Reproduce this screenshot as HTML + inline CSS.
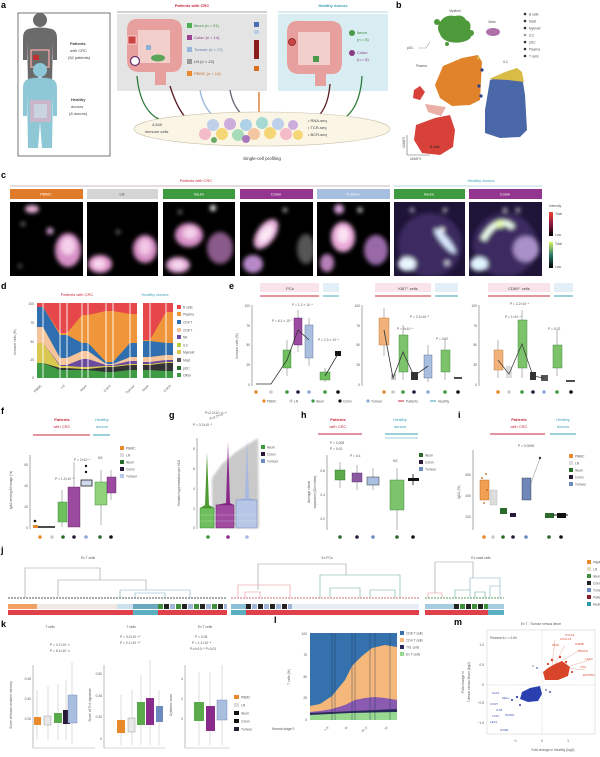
<!DOCTYPE html>
<html><head><meta charset="utf-8">
<style>
html,body{margin:0;padding:0;background:#fff;}
svg{display:block;font-family:"Liberation Sans",sans-serif;filter:blur(0.35px);}
.L{font-size:9px;font-weight:bold;fill:#000}
.s{font-size:4px;fill:#444}
.s3{font-size:3.3px;fill:#555}
.b{font-size:4.5px;fill:#333}
.r{fill:#c62b3c}
.tl{fill:#3aa0b5}
.w{font-size:4px;fill:#fff}
</style></head><body>
<svg width="600" height="757" viewBox="0 0 600 757" xmlns="http://www.w3.org/2000/svg">
<defs>
<filter id="bl" x="-60%" y="-60%" width="220%" height="220%"><feGaussianBlur stdDeviation="2"/></filter>
<filter id="bl1" x="-30%" y="-30%" width="160%" height="160%"><feGaussianBlur stdDeviation="1"/></filter>
<linearGradient id="gr1" x1="0" y1="0" x2="0" y2="1"><stop offset="0" stop-color="#f04030"/><stop offset="0.5" stop-color="#8a1a40"/><stop offset="1" stop-color="#000"/></linearGradient>
<linearGradient id="gr2" x1="0" y1="0" x2="0" y2="1"><stop offset="0" stop-color="#d8f060"/><stop offset="0.5" stop-color="#2a7a6a"/><stop offset="1" stop-color="#000"/></linearGradient>
<clipPath id="c1"><rect x="10" y="202" width="73" height="74"/></clipPath>
<clipPath id="c2"><rect x="87" y="202" width="71" height="74"/></clipPath>
<clipPath id="c3"><rect x="163" y="202" width="72" height="74"/></clipPath>
<clipPath id="c4"><rect x="240" y="202" width="73" height="74"/></clipPath>
<clipPath id="c5"><rect x="317" y="202" width="73" height="74"/></clipPath>
<clipPath id="c6"><rect x="394" y="202" width="71" height="74"/></clipPath>
<clipPath id="c7"><rect x="469" y="202" width="73" height="74"/></clipPath>
</defs>
<rect width="600" height="757" fill="#fff"/>

<!-- ================= PANEL A ================= -->
<text x="1" y="8" class="L">a</text>
<rect x="18" y="13" width="92" height="143" fill="#fff" stroke="#555" stroke-width="0.8"/>
<circle cx="40" cy="20" r="7" fill="#6b6b6b"/>
<path d="M28,29 Q40,26 52,29 Q57,31 57,38 L57,60 L53,60 L53,42 L52,82 L42,82 L40,62 L38,82 L28,82 L27,42 L27,60 L23,60 L23,38 Q23,31 28,29 Z" fill="#6b6b6b"/>
<rect x="31" y="50" width="18" height="17" fill="none" stroke="#e3a0a0" stroke-width="1.5"/>
<rect x="33" y="55" width="6" height="5" fill="#c03030"/>
<text x="70" y="45" class="s" style="font-weight:bold">Patients</text>
<text x="70" y="52" class="s">with CRC</text>
<text x="68" y="59" class="s">(52 patients)</text>
<circle cx="40" cy="70" r="7" fill="#8ec7d5"/>
<path d="M28,79 Q40,76 52,79 Q57,81 57,88 L57,116 L53,116 L53,92 L52,148 L42,148 L40,122 L38,148 L28,148 L27,92 L27,116 L23,116 L23,88 Q23,81 28,79 Z" fill="#8ec7d5"/>
<rect x="30" y="100" width="21" height="22" fill="#d9b2c6" opacity="0.8"/>
<rect x="34" y="104" width="13" height="14" fill="#c8dce6" opacity="0.8"/>
<text x="71" y="101" class="s" style="font-weight:bold">Healthy</text>
<text x="71" y="108" class="s">donors</text>
<text x="69" y="115" class="s">(8 donors)</text>

<text x="192" y="7" class="s r" text-anchor="middle" style="font-weight:bold">Patients with CRC</text>
<line x1="117" y1="12" x2="267" y2="12" stroke="#888" stroke-width="0.8"/>
<rect x="117" y="14" width="150" height="77" fill="#e4e4e4"/>
<path d="M127,30 Q127,18 140,19 L170,19 Q182,19 182,30 L182,60 Q182,72 172,72 L166,72 L166,85 L155,85 L155,72 L140,72 Q127,72 127,60 Z" fill="#e8a09e"/>
<rect x="138" y="30" width="32" height="33" fill="#f2cfcb"/>
<rect x="128" y="36" width="8" height="8" fill="#c44" stroke="#fff" stroke-width="0.6"/>
<circle cx="135" cy="61" r="4.5" fill="#fff" stroke="#6a2a6a" stroke-width="1.2"/>
<ellipse cx="158" cy="58" rx="7" ry="3.5" fill="#5aa55a"/>
<rect x="146" y="45" width="5" height="5" fill="#8fb0d8"/>
<rect x="187" y="23" width="5" height="5" fill="#4caf50"/>
<text x="194" y="27" class="s" style="fill:#3a8a3a">Ileum (n = 21)</text>
<rect x="187" y="35" width="5" height="5" fill="#a0438f"/>
<text x="194" y="39" class="s" style="fill:#8a3a80">Colon (n = 14)</text>
<rect x="187" y="47" width="5" height="5" fill="#9ab5dc"/>
<text x="194" y="51" class="s" style="fill:#5a7ab0">Tumour (n = 17)</text>
<rect x="187" y="59" width="5" height="5" fill="#999"/>
<text x="194" y="63" class="s">LN (n = 22)</text>
<rect x="187" y="71" width="5" height="5" fill="#e8892a"/>
<text x="194" y="75" class="s" style="fill:#c07020">PBMC (n = 14)</text>
<rect x="254" y="22" width="5" height="5" fill="#4a6fb0"/>
<rect x="254" y="30" width="5" height="4" fill="#b8cce6"/>
<rect x="254" y="40" width="5" height="19" fill="#8b1a1a"/>
<rect x="254" y="66" width="5" height="5" fill="#d87020"/>

<text x="333" y="7" class="s tl" text-anchor="middle" style="font-weight:bold">Healthy donors</text>
<line x1="278" y1="12" x2="388" y2="12" stroke="#9cc7d2" stroke-width="0.8"/>
<rect x="278" y="14" width="110" height="77" fill="#d7edf2"/>
<path d="M287,32 Q287,20 300,21 L330,21 Q342,21 342,32 L342,62 Q342,74 332,74 L326,74 L326,86 L315,86 L315,74 L300,74 Q287,74 287,62 Z" fill="#e8a09e"/>
<rect x="298" y="32" width="32" height="33" fill="#f2cfcb"/>
<circle cx="292" cy="42" r="3.5" fill="#c44" stroke="#7a2020" stroke-width="0.8"/>
<rect x="313" y="56" width="6" height="6" fill="#4a9a4a"/>
<circle cx="352" cy="33" r="3" fill="#4a9a4a"/>
<text x="357" y="34" class="s" style="fill:#3a8a3a">Ileum</text>
<text x="357" y="41" class="s" style="fill:#3a8a3a">(n = 8)</text>
<circle cx="352" cy="53" r="3" fill="#8a3a80"/>
<text x="357" y="54" class="s" style="fill:#8a3a80">Colon</text>
<text x="357" y="61" class="s" style="fill:#8a3a80">(n = 8)</text>

<g fill="none" stroke-width="1.3">
<path d="M137,76 Q140,110 160,120" stroke="#2e7a3a"/>
<path d="M170,86 Q178,112 190,122" stroke="#5a1a20"/>
<path d="M200,90 Q203,108 215,117" stroke="#9ab5dc"/>
<path d="M230,90 Q233,108 245,117" stroke="#667"/>
<path d="M259,92 L259,116" stroke="#d87020"/>
<path d="M330,84 Q328,112 312,121" stroke="#5a1a20"/>
<path d="M362,76 Q360,112 338,122" stroke="#2e7a3a"/>
</g>
<polygon points="157,117 163,121 157,123" fill="#2e7a3a"/>
<polygon points="187,119 192,124 186,124" fill="#5a1a20"/>
<polygon points="256,114 262,114 259,119" fill="#d87020"/>
<polygon points="315,118 309,122 315,124" fill="#5a1a20"/>
<polygon points="341,119 335,123 341,125" fill="#2e7a3a"/>
<ellipse cx="262" cy="129" rx="128" ry="17" fill="#fbf5e6" stroke="#c9c0a8" stroke-width="0.6"/>
<g opacity="0.9">
<circle cx="205" cy="134" r="6" fill="#f4b6c6"/>
<circle cx="213" cy="125" r="6" fill="#b9cdec"/>
<circle cx="222" cy="134" r="6" fill="#f5d36b"/>
<circle cx="230" cy="124" r="6" fill="#c7a6dc"/>
<circle cx="238" cy="135" r="6" fill="#9fd8b5"/>
<circle cx="246" cy="125" r="6" fill="#a6cfe8"/>
<circle cx="254" cy="134" r="6" fill="#f3c19a"/>
<circle cx="262" cy="123" r="6" fill="#9fd8d0"/>
<circle cx="270" cy="133" r="6" fill="#f5d36b"/>
<circle cx="278" cy="124" r="6" fill="#b9cdec"/>
<circle cx="286" cy="134" r="6" fill="#f4b6c6"/>
<circle cx="293" cy="125" r="5" fill="#c7a6dc"/>
<circle cx="298" cy="135" r="5" fill="#f5d36b"/>
<circle cx="246" cy="139" r="4" fill="#a06ab8"/>
<circle cx="214" cy="140" r="3" fill="#5aa55a"/>
</g>
<text x="152" y="126" class="s">4,649</text>
<text x="145" y="133" class="s">immune cells</text>
<text x="308" y="122" class="s">• RNA-seq</text>
<text x="308" y="129" class="s">• TCR-seq</text>
<text x="308" y="136" class="s">• BCR-seq</text>
<text x="262" y="160" class="b" text-anchor="middle">Single-cell profiling</text>

<!-- ================= PANEL B ================= -->
<text x="396" y="8" class="L">b</text>
<text x="455" y="12" class="s3" text-anchor="middle">Myeloid</text>
<path d="M440,22 Q445,14 455,16 Q463,14 466,20 Q472,22 470,30 Q474,36 468,40 Q460,44 450,42 Q442,40 440,34 Q436,28 440,22 Z" fill="#4e9a3a"/>
<circle cx="437" cy="22" r="3" fill="#4e9a3a"/>
<circle cx="471" cy="33" r="3" fill="#4e9a3a"/>
<circle cx="447" cy="44" r="2" fill="#4e9a3a"/>
<text x="492" y="23" class="s3" text-anchor="middle">Mast</text>
<ellipse cx="493" cy="32" rx="7" ry="4" fill="#b070a8"/>
<text x="407" y="49" class="s3">pDC</text>
<path d="M418,48 L426,48 L430,42" stroke="#999" stroke-width="0.6" fill="none"/>
<text x="416" y="67" class="s3">Plasma</text>
<polygon points="443,66 462,58 478,55 482,62 480,100 470,105 452,106 440,98 435,85" fill="#e0832a"/>
<polygon points="490,80 508,74 522,76 525,95 527,130 520,137 500,138 485,133 485,110" fill="#4a67a8"/>
<polygon points="489,79 505,72 517,68 522,72 524,82 508,80" fill="#d8bc45"/>
<text x="503" y="63" class="s3">ILC</text>
<circle cx="482" cy="70" r="1.6" fill="#2a3f8a"/>
<circle cx="479" cy="86" r="1.6" fill="#2a3f8a"/>
<circle cx="481" cy="96" r="1.6" fill="#2a3f8a"/>
<circle cx="478" cy="58" r="1.4" fill="#d8bc45"/>
<polygon points="416,125 435,118 450,115 455,130 453,147 440,155 422,153 414,140" fill="#d8413a"/>
<polygon points="414,90 420,86 425,92 420,100 413,98" fill="#d8413a"/>
<polygon points="425,104 446,107 441,116 428,112" fill="#eab0a8"/>
<text x="430" y="148" class="s3" style="fill:#222">B cells</text>
<line x1="407" y1="135" x2="407" y2="155" stroke="#666" stroke-width="0.6"/>
<line x1="407" y1="155" x2="430" y2="155" stroke="#666" stroke-width="0.6"/>
<text x="405" y="148" class="s3" transform="rotate(-90 405 148)">UMAP2</text>
<text x="410" y="160" class="s3">UMAP1</text>
<g>
<circle cx="525" cy="14" r="1.3" fill="#333"/><text x="529" y="15.5" class="s3">B cells</text>
<circle cx="525" cy="21" r="1.3" fill="#333"/><text x="529" y="22.5" class="s3">Mast</text>
<circle cx="525" cy="28" r="1.3" fill="#333"/><text x="529" y="29.5" class="s3">Myeloid</text>
<circle cx="525" cy="35" r="1.3" fill="#999"/><text x="529" y="36.5" class="s3">ILC</text>
<circle cx="525" cy="42" r="1.3" fill="#333"/><text x="529" y="43.5" class="s3">pDC</text>
<circle cx="525" cy="49" r="1.3" fill="#333"/><text x="529" y="50.5" class="s3">Plasma</text>
<circle cx="525" cy="56" r="1.3" fill="#333"/><text x="529" y="57.5" class="s3">T cells</text>
</g>

<!-- ================= PANEL C ================= -->
<text x="1" y="178" class="L">c</text>
<text x="196" y="182" class="s r" text-anchor="middle">Patients with CRC</text>
<text x="481" y="182" class="s tl" text-anchor="middle">Healthy donors</text>
<line x1="10" y1="186" x2="390" y2="186" stroke="#b9a0a8" stroke-width="0.8"/>
<line x1="394" y1="186" x2="542" y2="186" stroke="#a8cdd8" stroke-width="0.8"/>
<rect x="10" y="189" width="73" height="10" fill="#e07b2a"/><text x="46" y="195.5" class="w" text-anchor="middle">PBMC</text>
<rect x="87" y="189" width="71" height="10" fill="#d5d5d5"/><text x="122" y="195.5" class="s" text-anchor="middle">LN</text>
<rect x="163" y="189" width="72" height="10" fill="#3e9a3e"/><text x="199" y="195.5" class="w" text-anchor="middle">Ileum</text>
<rect x="240" y="189" width="73" height="10" fill="#94368f"/><text x="276" y="195.5" class="w" text-anchor="middle">Colon</text>
<rect x="317" y="189" width="73" height="10" fill="#a6bedf"/><text x="353" y="195.5" class="w" text-anchor="middle">Tumour</text>
<rect x="394" y="189" width="71" height="10" fill="#3e9a3e"/><text x="429" y="195.5" class="w" text-anchor="middle">Ileum</text>
<rect x="469" y="189" width="73" height="10" fill="#94368f"/><text x="505" y="195.5" class="w" text-anchor="middle">Colon</text>

<rect x="10" y="202" width="73" height="74" fill="#000"/>
<rect x="87" y="202" width="71" height="74" fill="#000"/>
<rect x="163" y="202" width="72" height="74" fill="#000"/>
<rect x="240" y="202" width="73" height="74" fill="#000"/>
<rect x="317" y="202" width="73" height="74" fill="#000"/>
<rect x="394" y="202" width="71" height="74" fill="#1e1438"/>
<rect x="469" y="202" width="73" height="74" fill="#1e1438"/>

<g clip-path="url(#c1)"><g filter="url(#bl)">
<ellipse cx="32" cy="209" rx="7" ry="4" fill="#e8b0d8"/>
<ellipse cx="68" cy="250" rx="13" ry="17" fill="#d890c8"/>
<ellipse cx="68" cy="246" rx="7" ry="9" fill="#f4d0ea"/>
<circle cx="50" cy="231" r="3.5" fill="#d0a0d0"/>
<circle cx="23" cy="224" r="2" fill="#888"/>
<circle cx="20" cy="266" r="2" fill="#666"/>
</g></g>
<g clip-path="url(#c2)"><g filter="url(#bl)">
<ellipse cx="100" cy="264" rx="12" ry="9" fill="#e49ad0"/>
<ellipse cx="99" cy="264" rx="6" ry="5" fill="#f8d8ee"/>
<ellipse cx="145" cy="249" rx="12" ry="14" fill="#d890c8"/>
<ellipse cx="145" cy="247" rx="6" ry="8" fill="#f2c8e6"/>
<circle cx="118" cy="232" r="2" fill="#888"/>
</g></g>
<g clip-path="url(#c3)"><g filter="url(#bl)">
<ellipse cx="189" cy="235" rx="14" ry="12" fill="#d890c8"/>
<ellipse cx="190" cy="233" rx="7" ry="6" fill="#f4d0ea"/>
<ellipse cx="178" cy="265" rx="12" ry="8" fill="#e4a8d8"/>
<ellipse cx="178" cy="265" rx="6" ry="4" fill="#f8dcf0"/>
<ellipse cx="220" cy="248" rx="13" ry="16" fill="#8a5a8a"/>
<circle cx="213" cy="208" r="3" fill="#fff"/>
<circle cx="180" cy="212" r="2" fill="#888"/>
</g></g>
<g clip-path="url(#c4)"><g filter="url(#bl)">
<ellipse cx="266" cy="234" rx="9" ry="17" fill="#e8b0dc" transform="rotate(35 266 234)"/>
<ellipse cx="266" cy="234" rx="5" ry="10" fill="#fbe8f4" transform="rotate(35 266 234)"/>
<ellipse cx="253" cy="264" rx="10" ry="9" fill="#b888c8"/>
<ellipse cx="306" cy="249" rx="9" ry="15" fill="#555"/>
<circle cx="285" cy="210" r="2" fill="#ddd"/>
</g></g>
<g clip-path="url(#c5)"><g filter="url(#bl)">
<circle cx="339" cy="209" r="5" fill="#d8a0d8"/>
<ellipse cx="343" cy="237" rx="12" ry="15" fill="#e8a8d8"/>
<ellipse cx="343" cy="235" rx="6" ry="8" fill="#fbe2f2"/>
<ellipse cx="376" cy="250" rx="12" ry="15" fill="#9a6aa8"/>
<ellipse cx="327" cy="263" rx="7" ry="9" fill="#b880b8"/>
<circle cx="360" cy="210" r="2.5" fill="#ddd"/>
</g></g>
<g clip-path="url(#c6)"><g filter="url(#bl)">
<ellipse cx="430" cy="245" rx="32" ry="32" fill="#45306a" opacity="0.8"/>
<ellipse cx="407" cy="264" rx="9" ry="7" fill="#eaf6ff"/>
<ellipse cx="445" cy="241" rx="4" ry="16" fill="#d8e8ff" transform="rotate(-40 445 241)"/>
<circle cx="442" cy="230" r="2.5" fill="#fff"/>
<circle cx="412" cy="210" r="2" fill="#ccd"/>
<circle cx="445" cy="210" r="2" fill="#ddd"/>
<circle cx="447" cy="263" r="2.5" fill="#dde"/>
</g></g>
<g clip-path="url(#c7)"><g filter="url(#bl)">
<ellipse cx="505" cy="245" rx="32" ry="32" fill="#45306a" opacity="0.8"/>
<path d="M483,240 Q490,226 500,223 Q508,222 513,228" fill="none" stroke="#f0fff0" stroke-width="6"/>
<circle cx="500" cy="224" r="4" fill="#e8ffb0"/>
<ellipse cx="526" cy="249" rx="13" ry="13" fill="#a890c8"/>
<ellipse cx="479" cy="264" rx="9" ry="7" fill="#e0f4ff"/>
<circle cx="505" cy="210" r="2" fill="#ddd"/>
<circle cx="518" cy="210" r="2" fill="#ddd"/>
</g></g>
<text x="549" y="207" class="s3">Intensity</text>
<rect x="549" y="212" width="4" height="24" fill="url(#gr1)"/>
<rect x="549" y="242" width="4" height="26" fill="url(#gr2)"/>
<text x="555" y="215" class="s3">Total</text>
<text x="555" y="236" class="s3">Low</text>
<text x="555" y="245" class="s3">Total</text>
<text x="555" y="268" class="s3">Low</text>

<!-- ================= PANEL D ================= -->
<text x="1" y="289" class="L">d</text>
<text x="77" y="296" class="s r" text-anchor="middle">Patients with CRC</text>
<text x="155" y="296" class="s tl" text-anchor="middle">Healthy donors</text>
<rect x="37" y="303" width="100" height="75" fill="#e5474a"/>
<polygon points="37,307 43,307 60,333 67,333 82,315 88,315 106,311 113,311 130,314 137,314 137,378 37,378" fill="#f0963a"/>
<polygon points="37,307 43,307 60,335 67,335 82,343 88,343 106,362 113,362 130,343 137,343 137,378 37,378" fill="#2f6faf"/>
<polygon points="37,327 43,327 60,358 67,358 82,351 88,351 106,364 113,364 130,357 137,357 137,378 37,378" fill="#f6c49a"/>
<polygon points="37,343 43,343 60,365 67,365 82,359 88,359 106,365 113,365 130,361 137,361 137,378 37,378" fill="#6a4a9e"/>
<polygon points="37,343 43,343 60,366 67,366 82,367 88,367 106,366 113,366 130,364 137,364 137,378 37,378" fill="#d8c850"/>
<polygon points="37,363 43,363 60,368 67,368 82,369 88,369 106,367 113,367 130,365 137,365 137,378 37,378" fill="#333"/>
<polygon points="37,363 43,363 60,370 67,370 82,370 88,370 106,372 113,372 130,370 137,370 137,378 37,378" fill="#3e9a43"/>
<rect x="143" y="303" width="30" height="75" fill="#e5474a"/>
<polygon points="143,340 150,340 166,312 173,312 173,378 143,378" fill="#f0963a"/>
<polygon points="143,341 150,341 166,343 173,343 173,378 143,378" fill="#2f6faf"/>
<polygon points="143,357 150,357 166,355 173,355 173,378 143,378" fill="#f6c49a"/>
<polygon points="143,362 150,362 166,360 173,360 173,378 143,378" fill="#6a4a9e"/>
<polygon points="143,364 150,364 166,362 173,362 173,378 143,378" fill="#d8c850"/>
<polygon points="143,365 150,365 166,363 173,363 173,378 143,378" fill="#333"/>
<polygon points="143,370 150,370 166,371 173,371 173,378 143,378" fill="#3e9a43"/>
<g stroke="#fff" stroke-width="0.9">
<line x1="43" y1="303" x2="43" y2="378"/><line x1="60" y1="303" x2="60" y2="378"/><line x1="67" y1="303" x2="67" y2="378"/>
<line x1="82" y1="303" x2="82" y2="378"/><line x1="88" y1="303" x2="88" y2="378"/><line x1="106" y1="303" x2="106" y2="378"/>
<line x1="113" y1="303" x2="113" y2="378"/><line x1="130" y1="303" x2="130" y2="378"/>
<line x1="150" y1="303" x2="150" y2="378"/><line x1="166" y1="303" x2="166" y2="378"/>
</g>
<g class="s3" text-anchor="end">
<text x="34" y="305">100</text><text x="34" y="324">75</text><text x="34" y="343">50</text><text x="34" y="361">25</text><text x="34" y="379">0</text>
</g>
<text x="16" y="342" class="s3" text-anchor="middle" transform="rotate(-90 16 342)">Immune cells (%)</text>
<g class="s3" text-anchor="end">
<text x="42" y="386" transform="rotate(-45 42 386)">PBMC</text>
<text x="65" y="386" transform="rotate(-45 65 386)">LN</text>
<text x="87" y="386" transform="rotate(-45 87 386)">Ileum</text>
<text x="111" y="386" transform="rotate(-45 111 386)">Colon</text>
<text x="135" y="386" transform="rotate(-45 135 386)">Tumour</text>
<text x="149" y="386" transform="rotate(-45 149 386)">Ileum</text>
<text x="171" y="386" transform="rotate(-45 171 386)">Colon</text>
</g>
<g>
<rect x="177" y="305" width="4" height="4" fill="#e5474a"/><text x="183" y="308.5" class="s3">B cells</text>
<rect x="177" y="312" width="4" height="4" fill="#f0963a"/><text x="183" y="315.5" class="s3">Plasma</text>
<rect x="177" y="320" width="4" height="4" fill="#2f6faf"/><text x="183" y="323.5" class="s3">CD4 T</text>
<rect x="177" y="328" width="4" height="4" fill="#f6c49a"/><text x="183" y="331.5" class="s3">CD8 T</text>
<rect x="177" y="335" width="4" height="4" fill="#6a4a9e"/><text x="183" y="338.5" class="s3">NK</text>
<rect x="177" y="343" width="4" height="4" fill="#b8d040"/><text x="183" y="346.5" class="s3">ILC</text>
<rect x="177" y="350" width="4" height="4" fill="#d8c850"/><text x="183" y="353.5" class="s3">Myeloid</text>
<rect x="177" y="358" width="4" height="4" fill="#555"/><text x="183" y="361.5" class="s3">Mast</text>
<rect x="177" y="366" width="4" height="4" fill="#2a6a2a"/><text x="183" y="369.5" class="s3">pDC</text>
<rect x="177" y="373" width="4" height="4" fill="#3e9a43"/><text x="183" y="376.5" class="s3">Other</text>
</g>

<!-- ================= PANEL E ================= -->
<text x="229" y="289" class="L">e</text>
<rect x="260" y="283" width="59" height="9" fill="#f8e4ea"/><rect x="323" y="283" width="16" height="9" fill="#e4eef6"/>
<text x="290" y="290" class="s" text-anchor="middle">PCs</text>
<line x1="260" y1="296" x2="319" y2="296" stroke="#c62b3c" stroke-width="0.9"/>
<line x1="323" y1="296" x2="339" y2="296" stroke="#3aa0b5" stroke-width="0.9"/>
<line x1="252" y1="305" x2="252" y2="386" stroke="#555" stroke-width="0.5"/>
<g class="s3" text-anchor="end"><text x="250" y="307">100</text><text x="250" y="327">75</text><text x="250" y="346">50</text><text x="250" y="366">25</text><text x="250" y="386">0</text></g>
<text x="238" y="346" class="s3" text-anchor="middle" transform="rotate(-90 238 346)">Immune cells (%)</text>
<g stroke="#444" stroke-width="0.4">
<line x1="287" y1="340" x2="287" y2="376"/><line x1="298" y1="310" x2="298" y2="352"/><line x1="309" y1="318" x2="309" y2="366"/><line x1="325" y1="368" x2="325" y2="382"/>
</g>
<rect x="283" y="350" width="8" height="18" fill="#6fbf5f" stroke="#2d7a2d" stroke-width="0.4"/>
<rect x="294" y="318" width="8" height="27" fill="#9a4aa0" stroke="#5a2060" stroke-width="0.4"/>
<rect x="305" y="325" width="8" height="33" fill="#a9bfe0" stroke="#4a5a80" stroke-width="0.4"/>
<rect x="320" y="372" width="10" height="8" fill="#6fbf5f" stroke="#2d7a2d" stroke-width="0.4"/>
<rect x="335" y="351" width="6" height="5" fill="#111"/>
<polyline points="256,384 271,384 287,360 298,330 309,340" fill="none" stroke="#333" stroke-width="0.8"/>
<polyline points="325,376 338,354" fill="none" stroke="#333" stroke-width="0.8"/>
<text x="272" y="322" class="s3">P = 6.1 × 10⁻⁷</text>
<text x="292" y="306" class="s3">P = 1.2 × 10⁻⁶</text>
<text x="318" y="341" class="s3">P = 2.3 × 10⁻⁴</text>
<rect x="375" y="283" width="56" height="9" fill="#f8e4ea"/><rect x="435" y="283" width="23" height="9" fill="#e4eef6"/>
<text x="408" y="290" class="s" text-anchor="middle">Ki67⁺ cells</text>
<line x1="375" y1="296" x2="431" y2="296" stroke="#c62b3c" stroke-width="0.9"/>
<line x1="435" y1="296" x2="458" y2="296" stroke="#3aa0b5" stroke-width="0.9"/>
<line x1="362" y1="305" x2="362" y2="386" stroke="#555" stroke-width="0.5"/>
<g class="s3" text-anchor="end"><text x="360" y="307">100</text><text x="360" y="327">75</text><text x="360" y="346">50</text><text x="360" y="366">25</text><text x="360" y="386">0</text></g>
<g stroke="#444" stroke-width="0.4">
<line x1="384" y1="308" x2="384" y2="356"/><line x1="403" y1="325" x2="403" y2="380"/><line x1="428" y1="345" x2="428" y2="382"/><line x1="445" y1="338" x2="445" y2="380"/>
</g>
<rect x="379" y="318" width="10" height="27" fill="#f0b27a" stroke="#c06a20" stroke-width="0.4"/>
<rect x="391" y="374" width="5" height="6" fill="#ccc"/>
<rect x="399" y="335" width="9" height="37" fill="#7cc36b" stroke="#2d7a2d" stroke-width="0.4"/>
<rect x="411" y="372" width="7" height="8" fill="#333"/>
<rect x="424" y="355" width="8" height="23" fill="#a9bfe0" stroke="#4a5a80" stroke-width="0.4"/>
<rect x="441" y="350" width="9" height="22" fill="#7cc36b" stroke="#2d7a2d" stroke-width="0.4"/>
<line x1="454" y1="378" x2="462" y2="378" stroke="#111" stroke-width="1.5"/>
<polyline points="384,330 393,378 403,352 414,376 428,366" fill="none" stroke="#333" stroke-width="0.8"/>
<text x="397" y="330" class="s3">P = 5×10⁻⁴</text>
<text x="410" y="318" class="s3">P = 2.2×10⁻⁵</text>
<text x="436" y="340" class="s3">P = 0.07</text>
<rect x="488" y="283" width="62" height="9" fill="#f8e4ea"/><rect x="554" y="283" width="19" height="9" fill="#e4eef6"/>
<text x="519" y="290" class="s" text-anchor="middle">CD69⁺ cells</text>
<line x1="488" y1="296" x2="550" y2="296" stroke="#c62b3c" stroke-width="0.9"/>
<line x1="554" y1="296" x2="573" y2="296" stroke="#3aa0b5" stroke-width="0.9"/>
<line x1="479" y1="305" x2="479" y2="386" stroke="#555" stroke-width="0.5"/>
<g class="s3" text-anchor="end"><text x="477" y="307">100</text><text x="477" y="327">75</text><text x="477" y="346">50</text><text x="477" y="366">25</text><text x="477" y="386">0</text></g>
<g stroke="#444" stroke-width="0.4">
<line x1="498" y1="340" x2="498" y2="378"/><line x1="522" y1="310" x2="522" y2="378"/><line x1="557" y1="330" x2="557" y2="376"/>
</g>
<rect x="494" y="350" width="9" height="20" fill="#f0b27a" stroke="#c06a20" stroke-width="0.4"/>
<rect x="506" y="366" width="6" height="12" fill="#ddd"/>
<rect x="518" y="320" width="9" height="48" fill="#7cc36b" stroke="#2d7a2d" stroke-width="0.4"/>
<rect x="530" y="372" width="6" height="8" fill="#333"/>
<rect x="541" y="375" width="7" height="6" fill="#555"/>
<rect x="553" y="345" width="9" height="23" fill="#7cc36b" stroke="#2d7a2d" stroke-width="0.4"/>
<line x1="566" y1="381" x2="575" y2="381" stroke="#111" stroke-width="1.5"/>
<polyline points="498,360 509,374 522,344 533,376 544,378" fill="none" stroke="#333" stroke-width="0.7"/>
<text x="510" y="305" class="s3">P = 2.2×10⁻⁶</text>
<text x="505" y="318" class="s3">P = 1×10⁻⁴</text>
<text x="548" y="330" class="s3">P = 0.02</text>
<g>
<circle cx="256" cy="392" r="1.8" fill="#e8892a"/><circle cx="271" cy="392" r="1.8" fill="#ccc"/><circle cx="287" cy="392" r="1.8" fill="#3e9a3e"/><circle cx="298" cy="392" r="1.8" fill="#2a1a3a"/><circle cx="309" cy="392" r="1.8" fill="#8fa8d8"/><circle cx="325" cy="392" r="1.8" fill="#3e9a3e"/><circle cx="338" cy="392" r="1.8" fill="#111"/>
<circle cx="384" cy="392" r="1.8" fill="#e8892a"/><circle cx="393" cy="392" r="1.8" fill="#ccc"/><circle cx="403" cy="392" r="1.8" fill="#3e9a3e"/><circle cx="414" cy="392" r="1.8" fill="#2a1a3a"/><circle cx="428" cy="392" r="1.8" fill="#8fa8d8"/><circle cx="445" cy="392" r="1.8" fill="#3e9a3e"/><circle cx="458" cy="392" r="1.8" fill="#111"/>
<circle cx="498" cy="392" r="1.8" fill="#e8892a"/><circle cx="509" cy="392" r="1.8" fill="#ccc"/><circle cx="522" cy="392" r="1.8" fill="#3e9a3e"/><circle cx="533" cy="392" r="1.8" fill="#2a1a3a"/><circle cx="544" cy="392" r="1.8" fill="#8fa8d8"/><circle cx="557" cy="392" r="1.8" fill="#3e9a3e"/><circle cx="571" cy="392" r="1.8" fill="#111"/>
</g>
<g>
<circle cx="264" cy="401" r="1.6" fill="#e8892a"/><text x="267" y="402.5" class="s3">PBMC</text>
<circle cx="291" cy="401" r="1.6" fill="#ccc"/><text x="294" y="402.5" class="s3">LN</text>
<circle cx="313" cy="401" r="1.6" fill="#3e9a3e"/><text x="316" y="402.5" class="s3">Ileum</text>
<circle cx="340" cy="401" r="1.6" fill="#111"/><text x="343" y="402.5" class="s3">Colon</text>
<circle cx="368" cy="401" r="1.6" fill="#8fa8d8"/><text x="371" y="402.5" class="s3">Tumour</text>
<line x1="398" y1="401" x2="404" y2="401" stroke="#c62b3c" stroke-width="1"/><text x="406" y="402.5" class="s3">Patients</text>
<line x1="430" y1="401" x2="436" y2="401" stroke="#3aa0b5" stroke-width="1"/><text x="438" y="402.5" class="s3">Healthy</text>
</g>

<!-- ================= PANEL F ================= -->
<text x="1" y="414" class="L">f</text>
<text x="62" y="421" class="s r" text-anchor="middle" style="font-weight:bold">Patients</text>
<text x="62" y="428" class="s r" text-anchor="middle">with CRC</text>
<text x="102" y="421" class="s tl" text-anchor="middle">Healthy</text>
<text x="102" y="428" class="s tl" text-anchor="middle">donors</text>
<line x1="33" y1="435" x2="90" y2="435" stroke="#c62b3c" stroke-width="0.9"/>
<line x1="93" y1="435" x2="110" y2="435" stroke="#3aa0b5" stroke-width="0.9"/>
<line x1="30" y1="455" x2="30" y2="529" stroke="#555" stroke-width="0.5"/>
<g class="s3" text-anchor="end"><text x="28" y="466">60</text><text x="28" y="487">40</text><text x="28" y="508">20</text><text x="28" y="529">0</text></g>
<text x="12" y="490" class="s3" text-anchor="middle" transform="rotate(-90 12 490)">IgA2 among B lineage (%)</text>
<g stroke="#444" stroke-width="0.4">
<line x1="62" y1="490" x2="62" y2="527"/><line x1="74" y1="462" x2="74" y2="527"/><line x1="101" y1="470" x2="101" y2="525"/><line x1="111" y1="470" x2="111" y2="500"/>
</g>
<circle cx="35" cy="521" r="1.3" fill="#111"/><rect x="33" y="525" width="5" height="3" fill="#e8892a"/>
<line x1="38" y1="527" x2="55" y2="527" stroke="#111" stroke-width="1.4"/>
<rect x="58" y="502" width="9" height="20" fill="#6fbf5f" stroke="#2d7a2d" stroke-width="0.4"/>
<rect x="68" y="487" width="12" height="40" fill="#9b4aa0" stroke="#5a2060" stroke-width="0.4"/>
<rect x="81" y="480" width="11" height="6" fill="#cfd9ee" stroke="#222" stroke-width="0.8"/>
<circle cx="86" cy="466" r="1.2" fill="#111"/><circle cx="86" cy="472" r="1.2" fill="#111"/>
<rect x="95" y="482" width="12" height="23" fill="#8fd27a" stroke="#2d7a2d" stroke-width="0.4"/>
<rect x="107" y="477" width="9" height="16" fill="#9b4aa0" stroke="#5a2060" stroke-width="0.4"/>
<text x="55" y="480" class="s3">P = 1.2×10⁻⁵</text>
<text x="74" y="461" class="s3">P = 2×10⁻⁴</text>
<text x="98" y="459" class="s3">NS</text>
<g>
<circle cx="40" cy="537" r="1.8" fill="#e8892a"/><circle cx="52" cy="537" r="1.8" fill="#ccc"/><circle cx="63" cy="537" r="1.8" fill="#2a6a2a"/><circle cx="74" cy="537" r="1.8" fill="#2a1a3a"/><circle cx="86" cy="537" r="1.8" fill="#8fa8d8"/><circle cx="100" cy="537" r="1.8" fill="#2a6a2a"/><circle cx="111" cy="537" r="1.8" fill="#111"/>
</g>
<g>
<rect x="120" y="446" width="4" height="4" fill="#e8892a"/><text x="126" y="449.5" class="s3">PBMC</text>
<rect x="120" y="453" width="4" height="4" fill="#ddd"/><text x="126" y="456.5" class="s3">LN</text>
<rect x="120" y="460" width="4" height="4" fill="#2a6a2a"/><text x="126" y="463.5" class="s3">Ileum</text>
<rect x="120" y="467" width="4" height="4" fill="#2a1a3a"/><text x="126" y="470.5" class="s3">Colon</text>
<rect x="120" y="474" width="4" height="4" fill="#b8c8e8"/><text x="126" y="477.5" class="s3">Tumour</text>
</g>

<!-- ================= PANEL G ================= -->
<text x="169" y="418" class="L">g</text>
<text x="205" y="414" class="s3">P&lt;2.2×10⁻¹⁶</text>
<text x="210" y="420" class="s3" transform="rotate(-20 210 420)">P&lt;2.2×10⁻¹⁶</text>
<text x="193" y="426" class="s3">P = 3.3×10⁻⁵</text>
<line x1="197" y1="438" x2="197" y2="529" stroke="#555" stroke-width="0.5"/>
<g class="s3" text-anchor="end"><text x="195" y="450">8</text><text x="195" y="470">6</text><text x="195" y="490">4</text><text x="195" y="510">2</text><text x="195" y="529">0</text></g>
<text x="180" y="483" class="s3" text-anchor="middle" transform="rotate(-90 180 483)">Somatic hypermutation per VDJ</text>
<polygon points="212,528 212,478 222,464 236,452 250,443 258,438 259,528" fill="#b8b8b8" opacity="0.75" filter="url(#bl1)"/>
<polygon points="207,452 209,505 214,508 214,528 200,528 200,508 205,505" fill="#4e9a30"/>
<rect x="200" y="508" width="14" height="20" fill="#6cbf5a" stroke="#2d7a2d" stroke-width="0.4"/>
<polygon points="228,442 230,503 234,505 234,528 216,528 216,505 226,503" fill="#8a2a8a"/>
<rect x="216" y="505" width="18" height="23" fill="#a04aa0" stroke="#5a2060" stroke-width="0.4"/>
<polygon points="247,440 249,498 257,500 257,528 236,528 236,500 245,498" fill="#a8b8e0"/>
<rect x="236" y="500" width="21" height="28" fill="#b5c6e6" stroke="#6a7ab0" stroke-width="0.4"/>
<g stroke="#fff" stroke-width="0.3" opacity="0.7">
<line x1="200" y1="515" x2="257" y2="515"/><line x1="200" y1="521" x2="257" y2="521"/>
</g>
<circle cx="208" cy="537" r="1.8" fill="#3e9a3e"/><circle cx="228" cy="537" r="1.8" fill="#8a2a8a"/><circle cx="247" cy="537" r="1.8" fill="#a8b8e0"/>
<rect x="261" y="445" width="4" height="4" fill="#3e9a3e"/><text x="267" y="448.5" class="s3">Ileum</text>
<rect x="261" y="452" width="4" height="4" fill="#2a1a3a"/><text x="267" y="455.5" class="s3">Colon</text>
<rect x="261" y="459" width="4" height="4" fill="#6a8ac0"/><text x="267" y="462.5" class="s3">Tumour</text>

<!-- ================= PANEL H ================= -->
<text x="301" y="418" class="L">h</text>
<text x="338" y="421" class="s r" text-anchor="middle" style="font-weight:bold">Patients</text>
<text x="338" y="428" class="s r" text-anchor="middle">with CRC</text>
<text x="400" y="421" class="s tl" text-anchor="middle">Healthy</text>
<text x="400" y="428" class="s tl" text-anchor="middle">donors</text>
<line x1="318" y1="434" x2="362" y2="434" stroke="#c62b3c" stroke-width="0.9"/>
<line x1="385" y1="434" x2="418" y2="434" stroke="#3aa0b5" stroke-width="0.9"/>
<line x1="385" y1="438" x2="418" y2="438" stroke="#3aa0b5" stroke-width="0.5"/>
<line x1="327" y1="455" x2="327" y2="530" stroke="#555" stroke-width="0.5"/>
<g class="s3" text-anchor="end"><text x="325" y="472">0.6</text><text x="325" y="496">0.4</text><text x="325" y="520">0.2</text></g>
<text x="310" y="492" class="s3" text-anchor="middle" transform="rotate(-90 310 492)">Average clonal</text>
<text x="316" y="492" class="s3" text-anchor="middle" transform="rotate(-90 316 492)">expansion (Gini index)</text>
<text x="330" y="444" class="s3">P = 0.008</text>
<text x="330" y="450" class="s3">P = 0.02</text>
<text x="350" y="457" class="s3">P = 0.4</text>
<text x="393" y="462" class="s3">NS</text>
<g stroke="#444" stroke-width="0.4">
<line x1="340" y1="462" x2="340" y2="488"/><line x1="357" y1="465" x2="357" y2="490"/><line x1="373" y1="468" x2="373" y2="490"/><line x1="397" y1="468" x2="397" y2="530"/>
</g>
<rect x="335" y="470" width="10" height="10" fill="#5aaa4a" stroke="#2d6a2d" stroke-width="0.4"/>
<rect x="352" y="473" width="10" height="9" fill="#8a5aa0" stroke="#4a2060" stroke-width="0.4"/>
<rect x="367" y="477" width="12" height="8" fill="#a9bfe0" stroke="#333" stroke-width="0.5"/>
<rect x="390" y="480" width="14" height="30" fill="#7cc36b" stroke="#2d7a2d" stroke-width="0.4"/>
<rect x="408" y="478" width="11" height="3" fill="#111"/>
<line x1="413" y1="474" x2="413" y2="485" stroke="#111" stroke-width="0.8"/>
<circle cx="340" cy="537" r="1.8" fill="#2a6a2a"/><circle cx="357" cy="537" r="1.8" fill="#2a1a3a"/><circle cx="373" cy="537" r="1.8" fill="#6a8ac0"/><circle cx="397" cy="537" r="1.8" fill="#2a6a2a"/><circle cx="413" cy="537" r="1.8" fill="#111"/>
<rect x="419" y="453" width="4" height="4" fill="#2a6a2a"/><text x="425" y="456.5" class="s3">Ileum</text>
<rect x="419" y="460" width="4" height="4" fill="#2a1a3a"/><text x="425" y="463.5" class="s3">Colon</text>
<rect x="419" y="467" width="4" height="4" fill="#6a8ac0"/><text x="425" y="470.5" class="s3">Tumour</text>

<!-- ================= PANEL I ================= -->
<text x="458" y="418" class="L">i</text>
<text x="519" y="421" class="s r" text-anchor="middle" style="font-weight:bold">Patients</text>
<text x="519" y="428" class="s r" text-anchor="middle">with CRC</text>
<text x="563" y="421" class="s tl" text-anchor="middle">Healthy</text>
<text x="563" y="428" class="s tl" text-anchor="middle">donors</text>
<line x1="490" y1="434" x2="545" y2="434" stroke="#c62b3c" stroke-width="0.9"/>
<line x1="550" y1="434" x2="576" y2="434" stroke="#3aa0b5" stroke-width="0.9"/>
<text x="518" y="447" class="s3">P = 0.0008</text>
<line x1="473" y1="450" x2="473" y2="530" stroke="#555" stroke-width="0.5"/>
<g class="s3" text-anchor="end"><text x="471" y="476">600</text><text x="471" y="497">400</text><text x="471" y="518">200</text></g>
<text x="460" y="492" class="s3" text-anchor="middle" transform="rotate(-90 460 492)">IgG1 (%)</text>
<line x1="525" y1="500" x2="540" y2="458" stroke="#888" stroke-width="0.5"/>
<circle cx="540" cy="458" r="1.2" fill="#333"/>
<rect x="480" y="480" width="9" height="20" fill="#f0a050" stroke="#b06010" stroke-width="0.4"/>
<g fill="#c06010"><circle cx="482" cy="478" r="0.9"/><circle cx="486" cy="474" r="0.9"/><circle cx="484" cy="503" r="0.9"/><circle cx="487" cy="490" r="0.9"/></g>
<rect x="490" y="490" width="7" height="15" fill="#ddd" stroke="#999" stroke-width="0.3"/>
<rect x="500" y="508" width="7" height="6" fill="#2a6a2a"/>
<rect x="510" y="513" width="6" height="4" fill="#2a1a3a"/>
<rect x="522" y="478" width="9" height="22" fill="#6f86b8" stroke="#334" stroke-width="0.4"/>
<rect x="545" y="513" width="9" height="5" fill="#2a6a2a"/>
<rect x="557" y="513" width="9" height="5" fill="#111"/>
<line x1="553" y1="515" x2="568" y2="515" stroke="#111" stroke-width="1"/>
<circle cx="484" cy="537" r="1.8" fill="#e8892a"/><circle cx="493" cy="537" r="1.8" fill="#ccc"/><circle cx="503" cy="537" r="1.8" fill="#2a6a2a"/><circle cx="513" cy="537" r="1.8" fill="#2a1a3a"/><circle cx="526" cy="537" r="1.8" fill="#6a8ac0"/><circle cx="549" cy="537" r="1.8" fill="#2a6a2a"/><circle cx="561" cy="537" r="1.8" fill="#111"/>
<rect x="569" y="454" width="4" height="4" fill="#e8892a"/><text x="575" y="457.5" class="s3">PBMC</text>
<rect x="569" y="461" width="4" height="4" fill="#ddd"/><text x="575" y="464.5" class="s3">LN</text>
<rect x="569" y="468" width="4" height="4" fill="#2a6a2a"/><text x="575" y="471.5" class="s3">Ileum</text>
<rect x="569" y="475" width="4" height="4" fill="#2a1a3a"/><text x="575" y="478.5" class="s3">Colon</text>
<rect x="569" y="482" width="4" height="4" fill="#6a8ac0"/><text x="575" y="485.5" class="s3">Tumour</text>

<!-- ================= PANEL J ================= -->
<text x="1" y="553" class="L">j</text>
<text x="88" y="559" class="s3" text-anchor="middle">Ex T cells</text>
<text x="327" y="559" class="s3" text-anchor="middle">Ex PCs</text>
<text x="481" y="559" class="s3" text-anchor="middle">Ex mast cells</text>
<g fill="none" stroke="#999" stroke-width="0.6">
<path d="M25,598 L25,568 L100,568 L100,580"/>
<path d="M58,597 L58,580 L146,580 L146,590"/>
<path d="M258,590 L258,564 L346,564 L346,575"/>
<path d="M435,593 L435,562 L473,562 L473,578"/>
</g>
<g fill="none" stroke="#7ab0c8" stroke-width="0.6">
<path d="M120,598 L120,590 L190,590 L190,598"/><path d="M135,598 L135,593 L165,593 L165,598"/>
<path d="M470,598 L470,578 L500,578 L500,598"/><path d="M490,598 L490,586 L500,586"/>
</g>
<g fill="none" stroke="#e88a90" stroke-width="0.6">
<path d="M238,598 L238,585 L290,585 L290,598"/><path d="M245,598 L245,592 L260,592 L260,598"/>
<path d="M428,598 L428,593 L442,593 L442,598"/>
</g>
<g fill="none" stroke="#6ab090" stroke-width="0.6">
<path d="M320,598 L320,575 L400,575 L400,598"/><path d="M330,598 L330,588 L360,588 L360,598"/><path d="M370,598 L370,590 L395,590 L395,598"/>
<path d="M455,598 L455,590 L470,590"/><path d="M475,598 L475,592 L485,592 L485,598"/>
</g>
<g stroke-width="1.2" stroke-dasharray="2 1">
<line x1="8" y1="598" x2="227" y2="598" stroke="#777"/>
<line x1="231" y1="598" x2="419" y2="598" stroke="#d89090"/>
<line x1="425" y1="598" x2="504" y2="598" stroke="#80b080"/>
</g>
<rect x="8" y="604" width="29" height="5" fill="#f0a060"/>
<rect x="37" y="604" width="80" height="5" fill="#f0e8e2"/>
<rect x="117" y="604" width="16" height="5" fill="#cde0ee"/>
<rect x="133" y="604" width="25" height="5" fill="#6aa8c0"/>
<g>
<rect x="158" y="604" width="5" height="5" fill="#3d8f3d"/><rect x="164" y="604" width="5" height="5" fill="#222"/><rect x="170" y="604" width="5" height="5" fill="#9fb6d9"/><rect x="176" y="604" width="5" height="5" fill="#3d8f3d"/><rect x="182" y="604" width="5" height="5" fill="#222"/><rect x="188" y="604" width="5" height="5" fill="#9fb6d9"/><rect x="194" y="604" width="5" height="5" fill="#3d8f3d"/><rect x="200" y="604" width="5" height="5" fill="#222"/><rect x="206" y="604" width="5" height="5" fill="#9fb6d9"/><rect x="212" y="604" width="5" height="5" fill="#3d8f3d"/><rect x="218" y="604" width="5" height="5" fill="#222"/><rect x="224" y="604" width="3" height="5" fill="#9fb6d9"/>
</g>
<rect x="8" y="610" width="125" height="5" fill="#e0404a"/>
<rect x="133" y="610" width="25" height="5" fill="#5ab0c0"/>
<rect x="158" y="610" width="69" height="5" fill="#e0404a"/>
<rect x="231" y="604" width="15" height="5" fill="#8cc0d8"/>
<g>
<rect x="246" y="604" width="5" height="5" fill="#222"/><rect x="252" y="604" width="5" height="5" fill="#9fb6d9"/><rect x="258" y="604" width="5" height="5" fill="#222"/><rect x="264" y="604" width="5" height="5" fill="#9fb6d9"/><rect x="270" y="604" width="5" height="5" fill="#222"/><rect x="276" y="604" width="5" height="5" fill="#9fb6d9"/><rect x="282" y="604" width="5" height="5" fill="#222"/><rect x="288" y="604" width="4" height="5" fill="#9fb6d9"/>
</g>
<rect x="292" y="604" width="127" height="5" fill="#e6edf4"/>
<rect x="231" y="610" width="15" height="5" fill="#5ab0c0"/>
<rect x="246" y="610" width="173" height="5" fill="#e0404a"/>
<rect x="425" y="604" width="29" height="5" fill="#a8cce0"/>
<g>
<rect x="454" y="604" width="5" height="5" fill="#222"/><rect x="460" y="604" width="5" height="5" fill="#3d8f3d"/><rect x="466" y="604" width="5" height="5" fill="#222"/><rect x="472" y="604" width="5" height="5" fill="#3d8f3d"/><rect x="478" y="604" width="5" height="5" fill="#222"/><rect x="484" y="604" width="4" height="5" fill="#3d8f3d"/>
</g>
<rect x="488" y="604" width="16" height="5" fill="#a8cce0"/>
<rect x="425" y="610" width="63" height="5" fill="#e0404a"/>
<rect x="488" y="610" width="16" height="5" fill="#5ab0c0"/>
<g>
<rect x="587" y="560" width="4" height="4" fill="#e8892a"/><text x="593" y="563.5" class="s3">PBMC</text>
<rect x="587" y="567" width="4" height="4" fill="#e8dcc0"/><text x="593" y="570.5" class="s3">LN</text>
<rect x="587" y="574" width="4" height="4" fill="#3d8f3d"/><text x="593" y="577.5" class="s3">Ileum</text>
<rect x="587" y="581" width="4" height="4" fill="#222"/><text x="593" y="584.5" class="s3">Colon</text>
<rect x="587" y="588" width="4" height="4" fill="#6a8ac0"/><text x="593" y="591.5" class="s3">Tumour</text>
<rect x="587" y="595" width="4" height="4" fill="#8a1a2a"/><text x="593" y="598.5" class="s3">Patients</text>
<rect x="587" y="602" width="4" height="4" fill="#2a9aa0"/><text x="593" y="605.5" class="s3">Healthy</text>
</g>

<!-- ================= PANEL K ================= -->
<text x="1" y="627" class="L">k</text>
<text x="50" y="628" class="s3" text-anchor="middle">T cells</text>
<text x="50" y="646" class="s3">P = 4.7×10⁻¹¹</text>
<text x="50" y="652" class="s3">P = 6.1×10⁻¹²</text>
<line x1="33" y1="665" x2="33" y2="748" stroke="#555" stroke-width="0.4"/>
<line x1="33" y1="748" x2="95" y2="748" stroke="#999" stroke-width="0.4"/>
<g class="s3" text-anchor="end"><text x="31" y="680">0.45</text><text x="31" y="700">0.30</text><text x="31" y="720">0.25</text></g>
<text x="12" y="705" class="s3" text-anchor="middle" transform="rotate(-90 12 705)">Score of tissue-resident memory</text>
<g stroke="#aaa" stroke-width="0.4">
<line x1="37" y1="690" x2="37" y2="740"/><line x1="48" y1="686" x2="48" y2="740"/><line x1="58" y1="684" x2="58" y2="740"/><line x1="66" y1="680" x2="66" y2="740"/><line x1="72" y1="662" x2="72" y2="745"/>
</g>
<rect x="34" y="717" width="7" height="8" fill="#e8892a"/>
<rect x="44" y="716" width="7" height="9" fill="#e8e8e8" stroke="#888" stroke-width="0.4"/>
<rect x="54" y="713" width="8" height="10" fill="#5aaa4a"/>
<rect x="63" y="710" width="7" height="14" fill="#2a1a3a"/>
<rect x="68" y="695" width="9" height="28" fill="#a9bfe0" stroke="#6a7ab0" stroke-width="0.4"/>

<text x="131" y="628" class="s3" text-anchor="middle">T cells</text>
<text x="120" y="638" class="s3">P = 3.2×10⁻¹⁰</text>
<text x="120" y="644" class="s3">P = 2.1×10⁻¹⁰</text>
<line x1="104" y1="665" x2="104" y2="748" stroke="#555" stroke-width="0.4"/>
<line x1="104" y1="748" x2="165" y2="748" stroke="#999" stroke-width="0.4"/>
<g class="s3" text-anchor="end"><text x="102" y="675">0.60</text><text x="102" y="697">0.45</text><text x="102" y="718">0.30</text><text x="102" y="740">0</text></g>
<text x="91" y="705" class="s3" text-anchor="middle" transform="rotate(-90 91 705)">Score of Th1 signature</text>
<g stroke="#aaa" stroke-width="0.4">
<line x1="121" y1="695" x2="121" y2="745"/><line x1="132" y1="690" x2="132" y2="745"/><line x1="141" y1="675" x2="141" y2="745"/><line x1="150" y1="660" x2="150" y2="745"/><line x1="159" y1="690" x2="159" y2="745"/>
</g>
<rect x="117" y="720" width="8" height="13" fill="#e8892a"/>
<rect x="128" y="718" width="7" height="14" fill="#e8e8e8" stroke="#888" stroke-width="0.4"/>
<rect x="137" y="702" width="8" height="23" fill="#5aaa4a"/>
<rect x="146" y="698" width="8" height="27" fill="#8a2a8a"/>
<rect x="156" y="706" width="7" height="16" fill="#6a8ac0"/>

<text x="205" y="628" class="s3" text-anchor="middle">Ex T cells</text>
<text x="195" y="638" class="s3">P = 0.05</text>
<text x="192" y="644" class="s3">P = 1.1×10⁻⁹</text>
<text x="190" y="650" class="s3">P=4×10⁻⁵ P=0.01</text>
<line x1="185" y1="665" x2="185" y2="748" stroke="#555" stroke-width="0.4"/>
<line x1="185" y1="748" x2="230" y2="748" stroke="#999" stroke-width="0.4"/>
<g class="s3" text-anchor="end"><text x="183" y="680">4</text><text x="183" y="700">2</text><text x="183" y="720">0</text></g>
<text x="172" y="705" class="s3" text-anchor="middle" transform="rotate(-90 172 705)">Cytotoxic score</text>
<g stroke="#aaa" stroke-width="0.4">
<line x1="199" y1="672" x2="199" y2="745"/><line x1="210" y1="672" x2="210" y2="745"/><line x1="222" y1="665" x2="222" y2="745"/>
</g>
<rect x="194" y="702" width="10" height="19" fill="#5aaa4a"/>
<rect x="206" y="706" width="9" height="25" fill="#8a2a8a"/>
<rect x="217" y="700" width="10" height="20" fill="#a9bfe0" stroke="#6a7ab0" stroke-width="0.4"/>
<rect x="234" y="695" width="5" height="4" fill="#e8892a"/><text x="241" y="698.5" class="s3">PBMC</text>
<rect x="234" y="703" width="5" height="4" fill="#ddd"/><text x="241" y="706.5" class="s3">LN</text>
<rect x="234" y="711" width="5" height="4" fill="#111"/><text x="241" y="714.5" class="s3">Ileum</text>
<rect x="234" y="719" width="5" height="4" fill="#111"/><text x="241" y="722.5" class="s3">Colon</text>
<rect x="234" y="727" width="5" height="4" fill="#223"/><text x="241" y="730.5" class="s3">Tumour</text>

<!-- ================= PANEL L ================= -->
<text x="274" y="623" class="L">l</text>
<rect x="310" y="633" width="87" height="87" fill="#3572ad"/>
<polygon points="310,706 320,704 332,696 345,680 352,666 362,656 372,648 385,645 397,647 397,720 310,720" fill="#f5b77a"/>
<polygon points="310,712 320,711 332,709 345,705 355,700 365,698 375,697 385,698 397,700 397,720 310,720" fill="#8a5bb0"/>
<polygon points="310,713 397,709 397,712 310,715" fill="#2a2a5a"/>
<polygon points="310,715 330,714 350,713 397,712 397,720 310,720" fill="#98d890"/>
<g stroke="#1a3050" stroke-width="0.7" opacity="0.55">
<line x1="332" y1="633" x2="332" y2="720"/><line x1="335" y1="633" x2="335" y2="720"/><line x1="352" y1="633" x2="352" y2="720"/><line x1="355" y1="633" x2="355" y2="720"/><line x1="370" y1="633" x2="370" y2="720"/><line x1="375" y1="633" x2="375" y2="720"/><line x1="390" y1="633" x2="390" y2="720"/>
</g>
<g class="s3" text-anchor="end"><text x="307" y="635">100</text><text x="307" y="656">75</text><text x="307" y="678">50</text><text x="307" y="699">25</text><text x="307" y="721">0</text></g>
<text x="290" y="677" class="s3" text-anchor="middle" transform="rotate(-90 290 677)">T cells (%)</text>
<rect x="400" y="631" width="4" height="4" fill="#3572ad"/><text x="406" y="634.5" class="s3">CD8 T cells</text>
<rect x="400" y="638" width="4" height="4" fill="#f5b77a"/><text x="406" y="641.5" class="s3">CD4 T cells</text>
<rect x="400" y="645" width="4" height="4" fill="#2a2a5a"/><text x="406" y="648.5" class="s3">Th1 cells</text>
<rect x="400" y="652" width="4" height="4" fill="#98d890"/><text x="406" y="655.5" class="s3">Ex T cells</text>
<text x="272" y="730" class="s3">Normal stage 0</text>
<g class="s3" text-anchor="end">
<text x="329" y="728" transform="rotate(-40 329 728)">I–II</text>
<text x="348" y="728" transform="rotate(-40 348 728)">III</text>
<text x="368" y="728" transform="rotate(-40 368 728)">IV–V</text>
<text x="388" y="728" transform="rotate(-40 388 728)">VI</text>
</g>

<!-- ================= PANEL M ================= -->
<text x="454" y="625" class="L">m</text>
<text x="541" y="625" class="s3" text-anchor="middle">Ex T : Tumour versus Ileum</text>
<rect x="487" y="630" width="108" height="104" fill="none" stroke="#ccc" stroke-width="0.5"/>
<line x1="542" y1="630" x2="542" y2="734" stroke="#bbb" stroke-width="0.4" stroke-dasharray="1.5 1"/>
<line x1="487" y1="685" x2="595" y2="685" stroke="#bbb" stroke-width="0.4" stroke-dasharray="1.5 1"/>
<text x="490" y="639" class="s3">Pearson's r = 0.84</text>
<g class="s3" text-anchor="end"><text x="484" y="646">1.0</text><text x="484" y="666">0.5</text><text x="484" y="686">0</text><text x="484" y="704">−0.5</text><text x="484" y="724">−1.0</text></g>
<text x="464" y="682" class="s3" text-anchor="middle" transform="rotate(-90 464 682)">Fold change in</text>
<text x="470" y="682" class="s3" text-anchor="middle" transform="rotate(-90 470 682)">Tumour versus Ileum (log2)</text>
<g class="s3" text-anchor="middle"><text x="515" y="742">−1</text><text x="542" y="742">0</text><text x="568" y="742">1</text></g>
<text x="553" y="751" class="s3" text-anchor="middle">Fold change in Healthy (log2)</text>
<polygon points="543,672 548,668 555,664 562,661 570,667 568,676 558,680 545,680" fill="#d9452a"/>
<g fill="#d9452a"><circle cx="552" cy="660" r="1.3"/><circle cx="560" cy="657" r="1.2"/><circle cx="566" cy="662" r="1.2"/><circle cx="548" cy="664" r="1.1"/><circle cx="572" cy="672" r="1.1"/></g>
<g stroke="#e07060" stroke-width="0.3">
<line x1="555" y1="664" x2="565" y2="645"/><line x1="560" y1="662" x2="580" y2="650"/><line x1="566" y1="668" x2="585" y2="670"/><line x1="552" y1="666" x2="555" y2="640"/><line x1="570" y1="666" x2="590" y2="660"/>
</g>
<g style="font-size:3px;fill:#d9452a">
<text x="560" y="640">CXCL13</text><text x="575" y="645">GZMB</text><text x="552" y="646">IFNG</text><text x="578" y="652">PDCD1</text><text x="585" y="660">LAG3</text><text x="580" y="668">TOX</text><text x="565" y="636">CTLA4</text><text x="583" y="676">ENTPD1</text>
</g>
<polygon points="522,692 530,688 540,686 542,694 538,701 528,702 520,699" fill="#2a3fb0"/>
<g fill="#2a3fb0"><circle cx="517" cy="697" r="1.1"/><circle cx="512" cy="700" r="1"/><circle cx="520" cy="705" r="1"/></g>
<g style="font-size:3px;fill:#3a50b8">
<text x="492" y="694">KLF2</text><text x="502" y="699">SELL</text><text x="490" y="705">CCR7</text><text x="496" y="711">IL7R</text><text x="492" y="717">TCF7</text><text x="505" y="716">S1PR1</text><text x="490" y="723">LEF1</text><text x="500" y="731">ITGB1</text>
</g>
<g fill="#7a8ab0"><circle cx="550" cy="692" r="1.2"/><circle cx="546" cy="690" r="1"/><circle cx="537" cy="668" r="1"/><circle cx="533" cy="666" r="0.8"/></g>
</svg>
</body></html>
